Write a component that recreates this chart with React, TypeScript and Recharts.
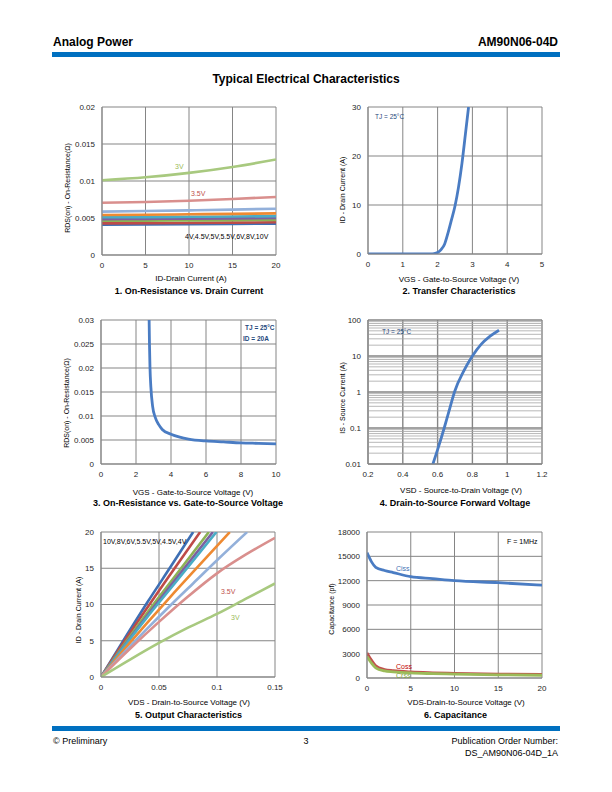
import React from 'react';
import { LineChart, Line, XAxis, YAxis, CartesianGrid, ReferenceLine } from 'recharts';

const FONT = '"Liberation Sans", Arial, Helvetica, sans-serif';
const GRID = '#858585';
const BAR = '#0070C0';
const NAVY = '#1F497D';

// ---------- 1. On-Resistance vs. Drain Current ----------
const drainCurrent = [0, 5, 10, 15, 20];
const rdsId10V = [0.0041, 0.00412, 0.00415, 0.00419, 0.00424];
const rdsId8V = [0.00428, 0.0043, 0.00433, 0.00437, 0.00442];
const rdsId6V = [0.00462, 0.00464, 0.00467, 0.0047, 0.00474];
const rdsId55V = [0.00485, 0.00488, 0.00491, 0.00495, 0.005];
const rdsId5V = [0.0051, 0.00512, 0.00516, 0.0052, 0.00525];
const rdsId45V = [0.0054, 0.00544, 0.0055, 0.00556, 0.00563];
const rdsId4V = [0.00586, 0.00594, 0.00603, 0.00613, 0.00626];
const rdsId35V = [0.00707, 0.00716, 0.00734, 0.00757, 0.00784];
const rdsId3V = [0.0101, 0.0105, 0.0111, 0.0119, 0.0129];
const rdsIdXTicks = [0, 5, 10, 15, 20];
const rdsIdYTicks = [0, 0.005, 0.01, 0.015, 0.02];

const gateLabels = ['10V', '8V', '6V', '5.5V', '5V', '4.5V', '4V', '3.5V', '3V'];
const gateColors = ['#3E6FB4', '#BE4B48', '#8DB255', '#7D60A0', '#4AACC5', '#EE8A32', '#93B0DA', '#D98F8D', '#A8C97F'];
const rdsIdSeries = [rdsId10V, rdsId8V, rdsId6V, rdsId55V, rdsId5V, rdsId45V, rdsId4V, rdsId35V, rdsId3V];

// ---------- 2. Transfer Characteristics ----------
const transferVgs = [0, 1, 1.5, 1.8, 1.9, 2.0, 2.1, 2.2, 2.3, 2.4, 2.5, 2.6, 2.7, 2.8, 2.89];
const transferId = [0, 0, 0, 0.02, 0.08, 0.3, 0.9, 2, 4.3, 7, 9.8, 13.6, 18.5, 24.5, 30];
const transferXTicks = [0, 1, 2, 3, 4, 5];
const transferYTicks = [0, 10, 20, 30];

// ---------- 3. On-Resistance vs. Gate-to-Source Voltage ----------
const rdsVgs = [2.75, 2.77, 2.8, 2.85, 2.95, 3.1, 3.3, 3.5, 4, 4.5, 5, 6, 7, 8, 9, 10];
const rdsVal = [0.03, 0.025, 0.02, 0.016, 0.012, 0.0097, 0.0082, 0.0072, 0.0062, 0.0056, 0.0052, 0.0048, 0.0046, 0.0044, 0.0043, 0.0042];
const rdsVgsXTicks = [0, 2, 4, 6, 8, 10];
const rdsVgsYTicks = [0, 0.005, 0.01, 0.015, 0.02, 0.025, 0.03];

// ---------- 4. Drain-to-Source Forward Voltage ----------
const diodeVsd = [0.573, 0.6, 0.638, 0.67, 0.697, 0.75, 0.8, 0.85, 0.9, 0.953];
const diodeIs = [0.01, 0.025, 0.1, 0.35, 1, 3.8, 10, 21, 35, 52];
const diodeXTicks = [0.2, 0.4, 0.6, 0.8, 1, 1.2];
const diodeYTicks = [0.01, 0.1, 1, 10, 100];
const diodeMinor = [0.01, 0.1, 1, 10].flatMap((d) => [2, 3, 4, 5, 6, 7, 8, 9].map((m) => m * d));

// ---------- 5. Output Characteristics ----------
const out10V = [[0, 0], [0.02, 5.2], [0.04, 10.3], [0.06, 15.2], [0.0795, 20]];
const out8V = [[0, 0], [0.02, 4.9], [0.04, 9.6], [0.06, 14.2], [0.0855, 20]];
const out6V = [[0, 0], [0.02, 4.5], [0.04, 8.9], [0.06, 13.1], [0.093, 20]];
const out55V = [[0, 0], [0.02, 4.3], [0.04, 8.5], [0.06, 12.6], [0.0965, 20]];
const out5V = [[0, 0], [0.02, 4.2], [0.04, 8.3], [0.06, 12.2], [0.0995, 20]];
const out45V = [[0, 0], [0.02, 3.8], [0.04, 7.5], [0.06, 11.1], [0.08, 14.6], [0.111, 20]];
const out4V = [[0, 0], [0.02, 3.4], [0.04, 6.7], [0.06, 9.9], [0.08, 13], [0.1, 16.1], [0.126, 20]];
const out35V = [[0, 0], [0.025, 3.9], [0.05, 7.6], [0.075, 11.1], [0.1, 14.3], [0.125, 16.9], [0.15, 19.2]];
const out3V = [[0, 0], [0.025, 2.4], [0.05, 4.7], [0.075, 6.8], [0.1, 8.7], [0.125, 10.8], [0.15, 12.9]];
const outSeries = [out10V, out8V, out6V, out55V, out5V, out45V, out4V, out35V, out3V];
const outXTicks = [0, 0.05, 0.1, 0.15];
const outYTicks = [0, 5, 10, 15, 20];

// ---------- 6. Capacitance ----------
const capVds = [0, 0.5, 1, 2, 3, 5, 7.5, 10, 15, 20];
const ciss = [15450, 14350, 13650, 13250, 13000, 12500, 12250, 12000, 11750, 11450];
const coss = [3100, 2200, 1500, 1050, 900, 740, 640, 575, 490, 450];
const crss = [2650, 1850, 1250, 880, 760, 620, 540, 480, 390, 340];
const capXTicks = [0, 5, 10, 15, 20];
const capYTicks = [0, 3000, 6000, 9000, 12000, 15000, 18000];

const zip = (xs: number[], ys: number[]) => xs.map((x, i) => ({ x, y: ys[i] }));
const fromPairs = (p: number[][]) => p.map(([x, y]) => ({ x, y }));

const TICK = { fontSize: 8, fill: '#262626', fontFamily: FONT };

type Box = { l: number; t: number; r: number; b: number };

function Txt({ x, y, children, size = 8, bold = false, color = '#000', anchor = 'middle', rotate = false }: any) {
  const tx = anchor === 'middle' ? '-50%' : anchor === 'end' ? '-100%' : '0';
  return (
    <div
      style={{
        position: 'absolute',
        left: x,
        top: y,
        transform: `translate(${tx}, -50%)${rotate ? ' rotate(-90deg)' : ''}`,
        fontSize: size,
        fontWeight: bold ? 700 : 400,
        color,
        lineHeight: 1,
        whiteSpace: 'nowrap',
        fontFamily: FONT,
      }}
    >
      {children}
    </div>
  );
}

function Panel({ box, xDomain, xTicks, yDomain, yTicks, yLog = false, yGap = 7, children }: any) {
  const YW = 60;
  const XH = 30;
  const MT = 6;
  const MR = 10;
  return (
    <div style={{ position: 'absolute', left: box.l - YW, top: box.t - MT }}>
      <LineChart
        width={box.r - box.l + YW + MR}
        height={box.b - box.t + MT + XH}
        margin={{ top: MT, right: MR, bottom: 0, left: 0 }}
      >
        <CartesianGrid stroke={GRID} strokeWidth={yLog ? 1.4 : 1} />
        <XAxis
          type="number"
          dataKey="x"
          domain={xDomain}
          ticks={xTicks}
          interval={0}
          allowDataOverflow
          height={XH}
          tickLine={false}
          axisLine={{ stroke: GRID }}
          tick={TICK}
          tickMargin={1}
        />
        <YAxis
          type="number"
          dataKey="y"
          domain={yDomain}
          ticks={yTicks}
          interval={0}
          scale={yLog ? 'log' : 'auto'}
          allowDataOverflow
          width={YW}
          tickLine={false}
          axisLine={{ stroke: GRID }}
          tick={TICK}
          tickMargin={yGap - 6}
        />
        {children}
      </LineChart>
    </div>
  );
}

const P1: Box = { l: 102, t: 107, r: 276, b: 255 };
const P2: Box = { l: 368, t: 107, r: 542, b: 254 };
const P3: Box = { l: 101, t: 320, r: 276, b: 464 };
const P4: Box = { l: 368, t: 320, r: 542, b: 464 };
const P5: Box = { l: 101, t: 532, r: 275, b: 677 };
const P6: Box = { l: 367, t: 532, r: 542, b: 678 };

export default function App() {
  return (
    <div style={{ position: 'absolute', left: 0, top: 0, width: 612, height: 792, background: '#fff', fontFamily: FONT }}>
      {/* header */}
      <Txt x={53} y={42} size={12} bold anchor="start">Analog Power</Txt>
      <Txt x={558} y={42} size={12} bold anchor="end">AM90N06-04D</Txt>
      <div style={{ position: 'absolute', left: 52, top: 52, width: 508, height: 5, background: BAR }} />
      <Txt x={306} y={78.5} size={12} bold>Typical Electrical Characteristics</Txt>

      {/* 1 */}
      <Panel box={P1} xDomain={[0, 20]} xTicks={rdsIdXTicks} yDomain={[0, 0.02]} yTicks={rdsIdYTicks} yGap={7}>
        {rdsIdSeries.map((s, i) => (
          <Line
            key={gateLabels[i]}
            data={zip(drainCurrent, s)}
            dataKey="y"
            type="monotone"
            stroke={gateColors[i]}
            strokeWidth={2.6}
            dot={false}
            isAnimationActive={false}
          />
        ))}
      </Panel>
      <Txt x={175} y={166} size={7} color="#9BBB59" anchor="start">3V</Txt>
      <Txt x={191} y={192.5} size={7} color="#C0504D" anchor="start">3.5V</Txt>
      <Txt x={185} y={235.5} size={7} anchor="start">4V,4.5V,5V,5.5V,6V,8V,10V</Txt>
      <Txt x={67} y={188} size={7} rotate>RDS(on) - On-Resistance(Ω)</Txt>
      <Txt x={191} y={279}>ID-Drain Current (A)</Txt>
      <Txt x={189} y={291} size={9} bold>1. On-Resistance vs. Drain Current</Txt>

      {/* 2 */}
      <Panel box={P2} xDomain={[0, 5]} xTicks={transferXTicks} yDomain={[0, 30]} yTicks={transferYTicks}>
        <Line data={zip(transferVgs, transferId)} dataKey="y" type="monotone" stroke="#4A7CC3" strokeWidth={2.8} dot={false} isAnimationActive={false} />
      </Panel>
      <Txt x={375} y={117} size={6.5} color={NAVY} anchor="start">TJ = 25°C</Txt>
      <Txt x={342} y={190} size={7} rotate>ID - Drain Current (A)</Txt>
      <Txt x={459} y={280}>VGS - Gate-to-Source Voltage (V)</Txt>
      <Txt x={459} y={291} size={9} bold>2. Transfer Characteristics</Txt>

      {/* 3 */}
      <Panel box={P3} xDomain={[0, 10]} xTicks={rdsVgsXTicks} yDomain={[0, 0.03]} yTicks={rdsVgsYTicks}>
        <Line data={zip(rdsVgs, rdsVal)} dataKey="y" type="monotone" stroke="#4A7CC3" strokeWidth={2.8} dot={false} isAnimationActive={false} />
      </Panel>
      <Txt x={245} y={328} size={6.5} bold color={NAVY} anchor="start">TJ = 25°C</Txt>
      <Txt x={243} y={338.5} size={6.5} bold color={NAVY} anchor="start">ID = 20A</Txt>
      <Txt x={66} y={403} size={7} rotate>RDS(on) - On-Resistance(Ω)</Txt>
      <Txt x={193} y={492.5}>VGS - Gate-to-Source Voltage (V)</Txt>
      <Txt x={188} y={503} size={9} bold>3. On-Resistance vs. Gate-to-Source Voltage</Txt>

      {/* 4 */}
      <Panel box={P4} xDomain={[0.2, 1.2]} xTicks={diodeXTicks} yDomain={[0.01, 100]} yTicks={diodeYTicks} yLog>
        {diodeMinor.map((v) => (
          <ReferenceLine key={v} y={v} stroke="#A6A6A6" strokeWidth={0.8} />
        ))}
        <Line data={zip(diodeVsd, diodeIs)} dataKey="y" type="monotone" stroke="#4A7CC3" strokeWidth={2.8} dot={false} isAnimationActive={false} />
      </Panel>
      <Txt x={382} y={332} size={6.5} color={NAVY} anchor="start">TJ = 25°C</Txt>
      <Txt x={342} y={397.5} size={7} rotate>IS - Source Current (A)</Txt>
      <Txt x={461} y={491}>VSD - Source-to-Drain Voltage (V)</Txt>
      <Txt x={455} y={503} size={9} bold>4. Drain-to-Source Forward Voltage</Txt>

      {/* 5 */}
      <Panel box={P5} xDomain={[0, 0.15]} xTicks={outXTicks} yDomain={[0, 20]} yTicks={outYTicks}>
        {outSeries.map((s, i) => (
          <Line
            key={gateLabels[i]}
            data={fromPairs(s)}
            dataKey="y"
            type="monotone"
            stroke={gateColors[i]}
            strokeWidth={2.6}
            dot={false}
            isAnimationActive={false}
          />
        ))}
      </Panel>
      <Txt x={103} y={541} size={7} anchor="start">10V,8V,6V,5.5V,5V,4.5V,4V</Txt>
      <Txt x={221} y={591} size={7} color="#C0504D" anchor="start">3.5V</Txt>
      <Txt x={231} y={617} size={7} color="#9BBB59" anchor="start">3V</Txt>
      <Txt x={78} y={610} size={7} rotate>ID - Drain Current (A)</Txt>
      <Txt x={189} y={703}>VDS - Drain-to-Source Voltage (V)</Txt>
      <Txt x={188.5} y={714.5} size={9} bold>5. Output Characteristics</Txt>

      {/* 6 */}
      <Panel box={P6} xDomain={[0, 20]} xTicks={capXTicks} yDomain={[0, 18000]} yTicks={capYTicks}>
        <Line data={zip(capVds, ciss)} dataKey="y" type="monotone" stroke="#4A7CC3" strokeWidth={2.8} dot={false} isAnimationActive={false} />
        <Line data={zip(capVds, coss)} dataKey="y" type="monotone" stroke="#C0504D" strokeWidth={2.8} dot={false} isAnimationActive={false} />
        <Line data={zip(capVds, crss)} dataKey="y" type="monotone" stroke="#9BBB59" strokeWidth={2.8} dot={false} isAnimationActive={false} />
      </Panel>
      <Txt x={507} y={541} size={7} anchor="start">F = 1MHz</Txt>
      <Txt x={396} y={568} size={7} color="#3E6FB4" anchor="start">Ciss</Txt>
      <Txt x={396} y={666} size={7} color="#C00000" anchor="start">Coss</Txt>
      <Txt x={396} y={675} size={7} color="#7FA440" anchor="start">Crss</Txt>
      <Txt x={331} y={609} size={7} rotate>Capacitance (pf)</Txt>
      <Txt x={466} y={703}>VDS-Drain-to-Source Voltage (V)</Txt>
      <Txt x={455.5} y={714.5} size={9} bold>6. Capacitance</Txt>

      {/* footer */}
      <div style={{ position: 'absolute', left: 52, top: 726, width: 508, height: 5, background: BAR }} />
      <Txt x={53} y={741} size={9} anchor="start">© Preliminary</Txt>
      <Txt x={306} y={741} size={9}>3</Txt>
      <Txt x={558} y={741} size={9} anchor="end">Publication Order Number:</Txt>
      <Txt x={558} y={752.5} size={9} anchor="end">DS_AM90N06-04D_1A</Txt>
    </div>
  );
}
